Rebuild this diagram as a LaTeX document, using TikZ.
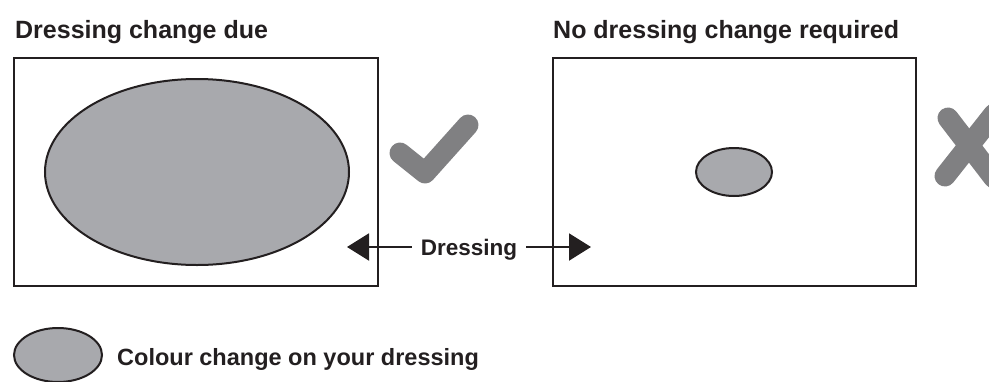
\documentclass[tikz,border=0pt]{standalone}
\usepackage{fontspec}
\setmainfont{Liberation Sans}
\usetikzlibrary{arrows.meta}
\definecolor{inkc}{HTML}{231F20}
\definecolor{fillg}{HTML}{A8A9AD}
\definecolor{markg}{HTML}{808082}
\tikzset{
  title/.style={inner sep=0pt, anchor=base west, text=inkc, font=\bfseries\fontsize{25}{30}\selectfont},
  lbl/.style={inner ysep=0pt, inner xsep=9pt, text=inkc, font=\bfseries\fontsize{22.5}{27}\selectfont},
  legtext/.style={inner sep=0pt, anchor=base west, text=inkc, font=\bfseries\fontsize{23.5}{28}\selectfont},
  panel/.style={draw=inkc, line width=2pt},
  blob/.style={draw=inkc, fill=fillg, line width=2pt},
  tickmark/.style={draw=markg, line width=21pt, line cap=round, line join=round},
  pointer/.style={draw=inkc, line width=2pt, -{Triangle[length=22pt,width=27pt]}},
}
\begin{document}
\begin{tikzpicture}[x=1pt,y=-1pt]
\useasboundingbox (0,0) rectangle (989,381);
\clip (0,0) rectangle (989,381);
% titles
\node[title] (t1) at (15,38) {Dressing change due};
\node[title] (t2) at (553,38) {No dressing change required};
% panels
\draw[panel] (14,58) rectangle (378,286);
\draw[panel] (553,58) rectangle (916,286);
% ellipses
\draw[blob] (197,172) ellipse [x radius=152, y radius=93];
\draw[blob] (734,172) ellipse [x radius=38, y radius=24];
% check mark
\draw[tickmark] (400,153) -- (425,173) -- (468,125);
% cross
\draw[tickmark] (948,118) -- (994,178);
\draw[tickmark] (945,176) -- (994,114);
% dressing pointer
\node[lbl, anchor=base] (dl) at (469,255) {Dressing};
\coordinate (lt) at (347,247);
\coordinate (rt) at (591,247);
\draw[pointer] (dl.west |- lt) -- (lt);
\draw[pointer] (dl.east |- rt) -- (rt);
% legend
\draw[blob] (58,355) ellipse [x radius=44, y radius=27];
\node[legtext] (lg) at (117,365) {Colour change on your dressing};
\end{tikzpicture}
\end{document}
